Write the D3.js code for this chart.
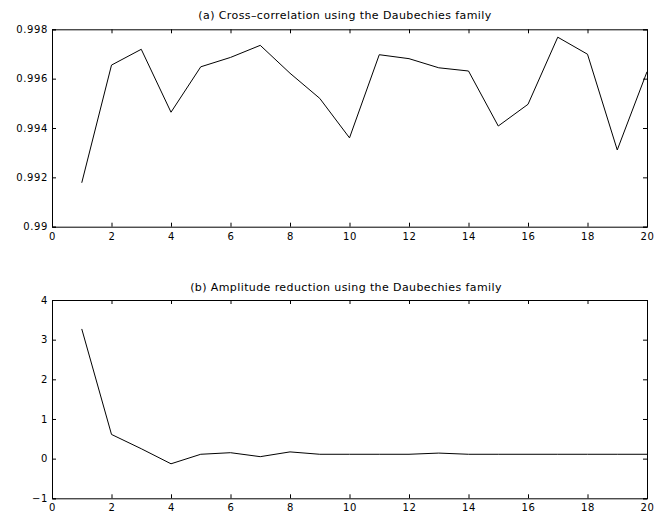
<!DOCTYPE html>
<html>
<head>
<meta charset="utf-8">
<script src="https://cdn.jsdelivr.net/npm/d3@7"></script>
<style>
  body { margin: 0; background: #fff; }
  text { font-family: "DejaVu Sans", sans-serif; fill: #000; }
</style>
</head>
<body>
<div id="wrapper"></div>
<script>
// wavelet order 1..20
const orders = d3.range(1, 21);

// (a) cross-correlation
const crossCorr = [0.99178, 0.99655, 0.99719, 0.99464, 0.99648, 0.99686, 0.99735, 0.99622, 0.9952, 0.9936,
                   0.99697, 0.99681, 0.99644, 0.99631, 0.99408, 0.99496, 0.99768, 0.99699, 0.99311, 0.99628];

// (b) amplitude reduction
const ampReduction = [3.27, 0.61, 0.25, -0.13, 0.11, 0.15, 0.05, 0.17, 0.11, 0.11,
                      0.11, 0.11, 0.14, 0.11, 0.11, 0.11, 0.11, 0.11, 0.11, 0.11];

const xTicks = [0, 2, 4, 6, 8, 10, 12, 14, 16, 18, 20];
const yTicksA = [0.99, 0.992, 0.994, 0.996, 0.998];
const yTicksB = [-1, 0, 1, 2, 3, 4];

const titleA = "(a) Cross\u2013correlation using the Daubechies family";
const titleB = "(b) Amplitude reduction using the Daubechies family";

var dimension = {
    width: 660,
    height: 518
}

const svg = d3.select("#wrapper")
    .append("svg")
    .attr("width", dimension.width)
    .attr("height", dimension.height)

function panel(values, yDomain, yTicks, title, box) {
    const x = d3.scaleLinear().domain([0, 20]).range([box.left, box.right]);
    const y = d3.scaleLinear().domain(yDomain).range([box.bottom, box.top]);

    const g = svg.append("g");
    const tick = 4;

    // bottom & left axes with labels, ticks pointing inward
    g.append("g")
        .attr("transform", `translate(0,${box.bottom})`)
        .call(d3.axisBottom(x).tickValues(xTicks).tickSize(-tick).tickPadding(6).tickFormat(d3.format("d")))
    g.append("g")
        .attr("transform", `translate(${box.left},0)`)
        .call(d3.axisLeft(y).tickValues(yTicks).tickSize(-tick).tickPadding(4).tickFormat(d3.format("~g")))
    // top & right, ticks only
    g.append("g")
        .attr("transform", `translate(0,${box.top})`)
        .call(d3.axisTop(x).tickValues(xTicks).tickSize(-tick).tickFormat(""))
    g.append("g")
        .attr("transform", `translate(${box.right},0)`)
        .call(d3.axisRight(y).tickValues(yTicks).tickSize(-tick).tickFormat(""))

    g.selectAll(".domain").attr("stroke", "#000").attr("stroke-width", 1);
    g.selectAll(".tick line").attr("stroke", "#000");
    g.selectAll(".tick text")
        .style("font-size", "10px")
        .style("letter-spacing", "0.6px")
        .attr("fill", "#000");

    const line = d3.line()
        .x((d, i) => x(orders[i]))
        .y(d => y(d));

    g.append("path")
        .datum(values)
        .attr("fill", "none")
        .attr("stroke", "#000")
        .attr("stroke-width", 1)
        .attr("d", line);

    g.append("text")
        .attr("x", box.titleX)
        .attr("y", box.titleY)
        .attr("text-anchor", "middle")
        .style("font-size", "11px")
        .style("letter-spacing", "0.4px")
        .text(title);
}

panel(crossCorr, [0.99, 0.998], yTicksA, titleA,
    {left: 52, right: 647, top: 29.3, bottom: 226.7, titleX: 345, titleY: 19});
panel(ampReduction, [-1, 4], yTicksB, titleB,
    {left: 52, right: 647, top: 300, bottom: 498.3, titleX: 346, titleY: 291});
</script>
</body>
</html>
